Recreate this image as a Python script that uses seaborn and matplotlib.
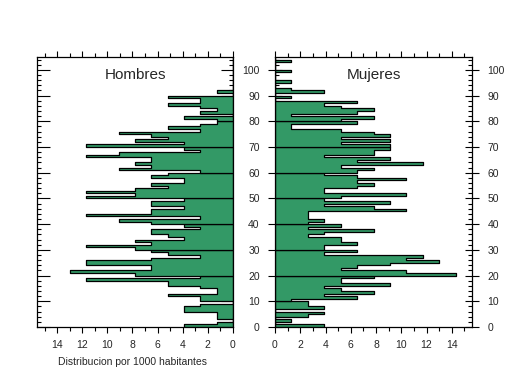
import numpy as np
import pandas as pd
import matplotlib
matplotlib.use('Agg')
import matplotlib.pyplot as plt
import seaborn as sns
from matplotlib.ticker import MultipleLocator

# Distribution per 1000 inhabitants by single year of age (0-104)
ages = list(range(105))

hombres = [
    3.9, 1.3, 0.0, 1.3, 1.3, 1.3, 3.9, 3.9, 2.6, 0.0,
    2.6, 2.6, 5.2, 1.3, 1.3, 2.6, 5.2, 5.2, 11.7, 2.6,
    7.8, 13.0, 6.5, 6.5, 11.7, 11.7, 6.5, 2.6, 5.2, 6.5,
    7.8, 11.7, 6.5, 7.8, 3.9, 5.2, 6.5, 6.5, 2.6, 3.9,
    6.5, 9.1, 2.6, 11.7, 6.5, 6.5, 3.9, 6.5, 6.5, 3.9,
    11.7, 7.8, 11.7, 7.8, 5.2, 6.5, 3.9, 3.9, 6.5, 5.2,
    2.6, 9.1, 6.5, 7.8, 6.5, 6.5, 11.7, 9.1, 2.6, 3.9,
    11.7, 3.9, 7.8, 5.2, 6.5, 9.1, 2.6, 5.2, 2.6, 1.3,
    1.3, 3.9, 0.0, 2.6, 1.3, 2.6, 5.2, 2.6, 2.6, 5.2,
    0.0, 1.3, 0.0, 0.0, 0.0, 0.0, 0.0, 0.0, 0.0, 0.0,
    0.0, 0.0, 0.0, 0.0, 0.0,
]

mujeres = [
    3.9, 0.0, 1.3, 0.0, 2.6, 3.9, 0.0, 3.9, 2.6, 2.6,
    1.3, 6.5, 3.9, 7.8, 5.2, 3.9, 9.1, 5.2, 5.2, 7.8,
    14.3, 10.4, 5.2, 6.5, 9.1, 13.0, 10.4, 11.7, 3.9, 6.5,
    3.9, 3.9, 6.5, 5.2, 5.2, 2.6, 3.9, 7.8, 2.6, 5.2,
    2.6, 3.9, 2.6, 2.6, 2.6, 10.4, 7.8, 3.9, 9.1, 3.9,
    5.2, 10.4, 3.9, 3.9, 6.5, 7.8, 6.5, 10.4, 6.5, 3.9,
    6.5, 7.8, 5.2, 11.7, 6.5, 9.1, 3.9, 7.8, 7.8, 9.1,
    9.1, 5.2, 9.1, 5.2, 9.1, 7.8, 5.2, 1.3, 1.3, 6.5,
    5.2, 7.8, 1.3, 6.5, 7.8, 5.2, 3.9, 6.5, 0.0, 1.3,
    0.0, 3.9, 1.3, 0.0, 0.0, 1.3, 0.0, 0.0, 0.0, 1.3,
    0.0, 0.0, 0.0, 1.3, 0.0,
]

df = pd.DataFrame({'edad': ages, 'Hombres': hombres, 'Mujeres': mujeres})
df['decada'] = df['edad'] // 10

green = '#339966'

sns.set_style('white')
plt.rcParams['font.family'] = ['Liberation Sans', 'DejaVu Sans']

fig = plt.figure(figsize=(5.09, 3.76), dpi=100)
ax_h = fig.add_axes([37 / 509, 1 - 327 / 376, 196 / 509, 270 / 376])
ax_m = fig.add_axes([275 / 509, 1 - 327 / 376, 197 / 509, 270 / 376])

# one step outline per decade, like the original
for ax, col in [(ax_h, 'Hombres'), (ax_m, 'Mujeres')]:
    for dec, grp in df.groupby('decada'):
        lo = dec * 10
        sns.histplot(data=grp, y='edad', weights=col, binwidth=1, binrange=(lo, lo + 10),
                     element='step', fill=True, color=green, alpha=1,
                     edgecolor='black', linewidth=0.9, ax=ax)
    ax.set_ylim(0, 105)
    ax.set_xlabel('')
    ax.set_ylabel('')
    ax.xaxis.set_major_locator(MultipleLocator(2))
    ax.xaxis.set_minor_locator(MultipleLocator(1))
    ax.yaxis.set_major_locator(MultipleLocator(10))
    ax.yaxis.set_minor_locator(MultipleLocator(2))
    for s in ax.spines.values():
        s.set_visible(True)
        s.set_color('black')
        s.set_linewidth(0.9)
    ax.tick_params(axis='x', which='both', top=True, bottom=True, direction='out',
                   labelsize=7.5, pad=5, color='black', width=0.8)
    ax.tick_params(axis='x', which='major', length=4)
    ax.tick_params(axis='x', which='minor', length=3)

ax_h.set_xlim(15.6, 0)
ax_m.set_xlim(0, 15.6)

# left panel: ticks only, no labels
ax_h.tick_params(axis='y', which='both', left=True, right=True, labelleft=False,
                 labelright=False, direction='in', color='black', width=0.8)
ax_h.tick_params(axis='y', which='major', length=9)
ax_h.tick_params(axis='y', which='minor', length=3)

# right panel: labels on both sides
ax_m.tick_params(axis='y', which='both', left=True, right=True, labelleft=True,
                 labelright=True, direction='inout', labelsize=7.5, color='black', width=0.8)
ax_m.tick_params(axis='y', which='major', length=10, pad=4)
ax_m.tick_params(axis='y', which='minor', length=0)
ax_m.tick_params(axis='y', which='minor', right=True, direction='in', length=3)
ax_m.tick_params(axis='y', which='major', labelright=True, pad=6)

ax_h.text(0.5, 0.933, 'Hombres', transform=ax_h.transAxes, ha='center', va='center', fontsize=11)
ax_m.text(0.5, 0.933, 'Mujeres', transform=ax_m.transAxes, ha='center', va='center', fontsize=11)

fig.text(132 / 509, 1 - 362 / 376, 'Distribucion por 1000 habitantes', ha='center', va='center', fontsize=7.5)

fig.savefig('out.png', dpi=100, facecolor='white')
